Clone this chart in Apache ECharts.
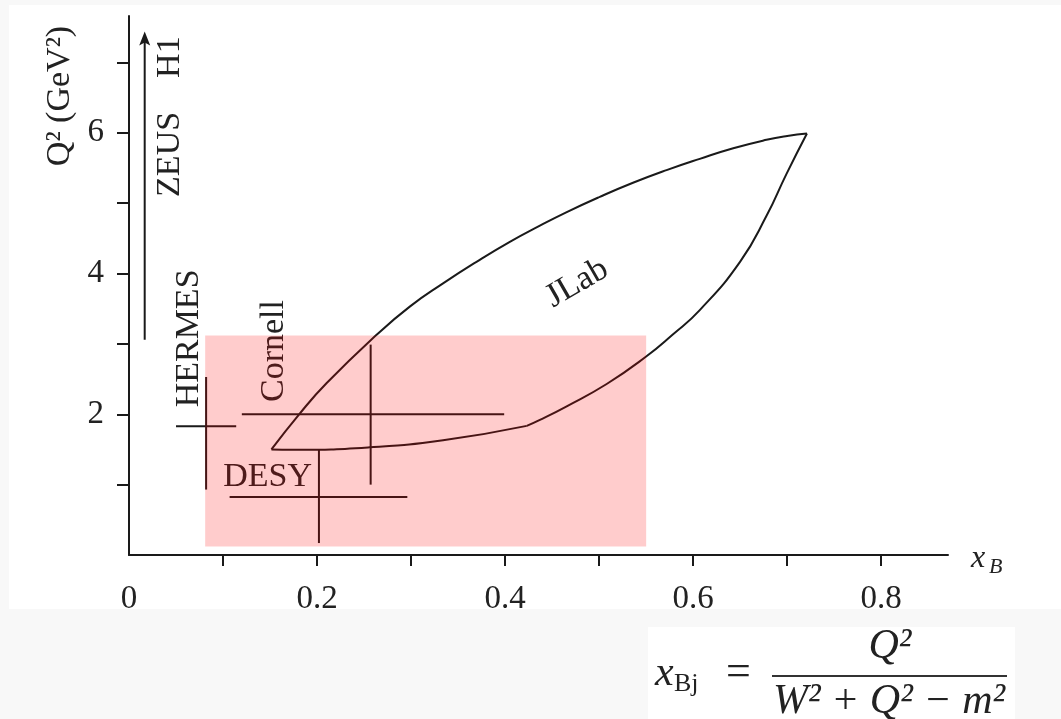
<!DOCTYPE html>
<html>
<head>
<meta charset="utf-8">
<script src="https://cdn.jsdelivr.net/npm/echarts@6/dist/echarts.min.js"></script>
<style>
html,body{margin:0;padding:0;background:#f8f8f8;}
#chart{width:1061px;height:719px;}
</style>
</head>
<body>
<div id="chart"></div>
<script>
// ---- data ----
const xTickValues = [0.1, 0.2, 0.3, 0.4, 0.5, 0.6, 0.7, 0.8];
const xLabelValues = [0, 0.2, 0.4, 0.6, 0.8];
const yTickValues = [1, 2, 3, 4, 5, 6, 7];
const yLabelValues = [2, 4, 6];

const jlabUpper = [[0.1515,1.50],[0.1816,2.01],[0.210,2.44],[0.263,3.125],[0.2986,3.53],[0.334,3.86],[0.370,4.17],[0.405,4.45],[0.437,4.68],[0.465,4.87],[0.5007,5.09],[0.536,5.29],[0.5717,5.47],[0.607,5.63],[0.6426,5.78],[0.678,5.90],[0.700,5.955],[0.721,5.99]];
const jlabLowerLeft = [[0.1515,1.50],[0.1745,1.495],[0.256,1.53],[0.334,1.63],[0.423,1.835]];
const jlabLowerRight = [[0.423,1.835],[0.437,1.92],[0.465,2.11],[0.508,2.43],[0.550,2.82],[0.578,3.13],[0.607,3.48],[0.650,4.17],[0.678,4.82],[0.699,5.41],[0.721,5.99]];

const crossNames = ['HERMES', 'Cornell', 'DESY'];
const crossX = [0.082, 0.257, 0.202];
const crossY = [1.83, 2.00, 0.825];
const crossXLow = [0.050, 0.120, 0.107];
const crossXHigh = [0.114, 0.399, 0.296];
const crossYLow = [0.93, 1.00, 0.17];
const crossYHigh = [2.53, 2.99, 1.50];

const regionX = [0.081, 0.550];
const regionY = [0.12, 3.12];

const arrowX = [0.0167, 0.0167];
const arrowY = [3.06, 7.44];

const annotationTexts = ['ZEUS    H1', 'HERMES', 'Cornell', 'DESY', 'JLab'];
const annotationX = [0.0440, 0.0634, 0.1538, 0.1474, 0.4766];
const annotationY = [6.23, 3.078, 2.899, 1.107, 3.86];
const annotationRotate = [90, 90, 90, 0, 30];

// ---- styles ----
const INK = '#1a1a1a';
const TXT = '#222222';
const SERIF = '"Liberation Serif", "DejaVu Serif", serif';

const chart = echarts.init(document.getElementById('chart'), null, {renderer: 'canvas'});

const crossData = crossNames.map((n, i) => [crossX[i], crossY[i], crossXLow[i], crossXHigh[i], crossYLow[i], crossYHigh[i]]);
const annData = annotationTexts.map((t, i) => [annotationX[i], annotationY[i]]);

const lineSeries = (name, data) => ({
  type: 'line', name, data, smooth: 0.5, symbol: 'none', z: 3,
  lineStyle: {color: INK, width: 2}, silent: true
});

const option = {
  animation: false,
  backgroundColor: '#f8f8f8',
  grid: {left: 129, top: 16, width: 819, height: 539, containLabel: false},
  xAxis: {
    type: 'value', min: 0, max: 0.871,
    splitLine: {show: false},
    axisLine: {lineStyle: {color: INK, width: 2}},
    axisTick: {show: true, customValues: xTickValues, length: 11, lineStyle: {color: INK, width: 2}},
    axisLabel: {customValues: xLabelValues, margin: 28, fontSize: 33, fontFamily: SERIF, color: TXT,
      formatter: v => String(v)}
  },
  yAxis: {
    type: 'value', min: 0, max: 7.66,
    splitLine: {show: false},
    axisLine: {lineStyle: {color: INK, width: 2}},
    axisTick: {show: true, customValues: yTickValues, length: 12, lineStyle: {color: INK, width: 2}},
    axisLabel: {customValues: yLabelValues, margin: 25, fontSize: 33, fontFamily: SERIF, color: TXT,
      formatter: v => String(v)}
  },
  graphic: [
    {type: 'rect', z: -10, shape: {x: 9, y: 5, width: 1052, height: 604}, style: {fill: '#ffffff'}, silent: true},
    {type: 'text', z: 5, x: 60, y: 96, rotation: Math.PI / 2,
      style: {text: 'Q² (GeV²)', font: '34px ' + SERIF, fill: TXT, align: 'center', verticalAlign: 'middle'}},
    {type: 'text', z: 5, x: 971, y: 559, style: {text: 'x', font: 'italic 32px ' + SERIF, fill: TXT, align: 'left', verticalAlign: 'middle'}},
    {type: 'text', z: 5, x: 989, y: 567, style: {text: 'B', font: 'italic 22px ' + SERIF, fill: TXT, align: 'left', verticalAlign: 'middle'}},
    // bottom band and formula panel
    {type: 'rect', z: 100, shape: {x: 0, y: 609, width: 1061, height: 110}, style: {fill: '#f8f8f8'}, silent: true},
    {type: 'rect', z: 101, shape: {x: 648, y: 627, width: 367, height: 92}, style: {fill: '#ffffff'}, silent: true},
    {type: 'text', z: 102, x: 655, y: 673.5, style: {text: 'x', font: 'italic 42px ' + SERIF, fill: TXT, align: 'left', verticalAlign: 'middle'}},
    {type: 'text', z: 102, x: 674, y: 684, style: {text: 'Bj', font: '26px ' + SERIF, fill: TXT, align: 'left', verticalAlign: 'middle'}},
    {type: 'text', z: 102, x: 738.5, y: 673, style: {text: '=', font: '44px ' + SERIF, fill: TXT, align: 'center', verticalAlign: 'middle'}},
    {type: 'line', z: 102, shape: {x1: 772, y1: 676, x2: 1007, y2: 676}, style: {stroke: '#333', lineWidth: 2}},
    {type: 'text', z: 102, x: 890, y: 646.5, style: {text: 'Q²', font: 'italic 42px ' + SERIF, fill: TXT, align: 'center', verticalAlign: 'middle'}},
    {type: 'text', z: 102, x: 889, y: 702, style: {text: 'W² + Q² − m²', font: 'italic 42px ' + SERIF, fill: TXT, align: 'center', verticalAlign: 'middle'}}
  ],
  series: [
    lineSeries('JLab upper', jlabUpper),
    lineSeries('JLab lower', jlabLowerLeft),
    lineSeries('JLab lower right', jlabLowerRight),
    {
      type: 'custom', name: 'crosses', z: 4, silent: true, clip: false,
      data: crossData,
      encode: {x: [0, 2, 3], y: [1, 4, 5]},
      renderItem: (params, api) => {
        const xl = api.coord([api.value(2), api.value(1)]);
        const xh = api.coord([api.value(3), api.value(1)]);
        const yl = api.coord([api.value(0), api.value(4)]);
        const yh = api.coord([api.value(0), api.value(5)]);
        return {type: 'group', children: [
          {type: 'line', shape: {x1: xl[0], y1: xl[1], x2: xh[0], y2: xh[1]}, style: {stroke: INK, lineWidth: 2}},
          {type: 'line', shape: {x1: yl[0], y1: yl[1], x2: yh[0], y2: yh[1]}, style: {stroke: INK, lineWidth: 2}}
        ]};
      }
    },
    {
      type: 'custom', name: 'arrow', z: 4, silent: true, clip: false,
      data: [[arrowX[0], arrowY[0], arrowX[1], arrowY[1]]],
      renderItem: (params, api) => {
        const a = api.coord([api.value(0), api.value(1)]);
        const b = api.coord([api.value(2), api.value(3)]);
        return {type: 'group', children: [
          {type: 'line', shape: {x1: a[0], y1: a[1], x2: b[0], y2: b[1] + 8}, style: {stroke: INK, lineWidth: 2}},
          {type: 'polygon', shape: {points: [[b[0], b[1]], [b[0] - 5.5, b[1] + 14], [b[0], b[1] + 11], [b[0] + 5.5, b[1] + 14]]}, style: {fill: INK}}
        ]};
      }
    },
    {
      type: 'custom', name: 'labels', z: 5, silent: true, clip: false,
      data: annData,
      renderItem: (params, api) => {
        const p = api.coord([api.value(0), api.value(1)]);
        const i = params.dataIndex;
        return {type: 'text', x: p[0], y: p[1], rotation: annotationRotate[i] * Math.PI / 180,
          style: {text: annotationTexts[i], font: '34px ' + SERIF, fill: TXT, align: 'center', verticalAlign: 'middle'}};
      }
    },
    {
      type: 'custom', name: 'region', z: 10, silent: true,
      data: [[regionX[0], regionX[1], regionY[0], regionY[1]]],
      encode: {x: [0, 1], y: [2, 3]},
      renderItem: (params, api) => {
        const p0 = api.coord([api.value(0), api.value(3)]);
        const p1 = api.coord([api.value(1), api.value(2)]);
        return {type: 'rect', shape: {x: p0[0], y: p0[1], width: p1[0] - p0[0], height: p1[1] - p0[1]},
          style: {fill: 'rgba(255,0,0,0.2)'}};
      }
    }
  ]
};
chart.setOption(option);
</script>
</body>
</html>
